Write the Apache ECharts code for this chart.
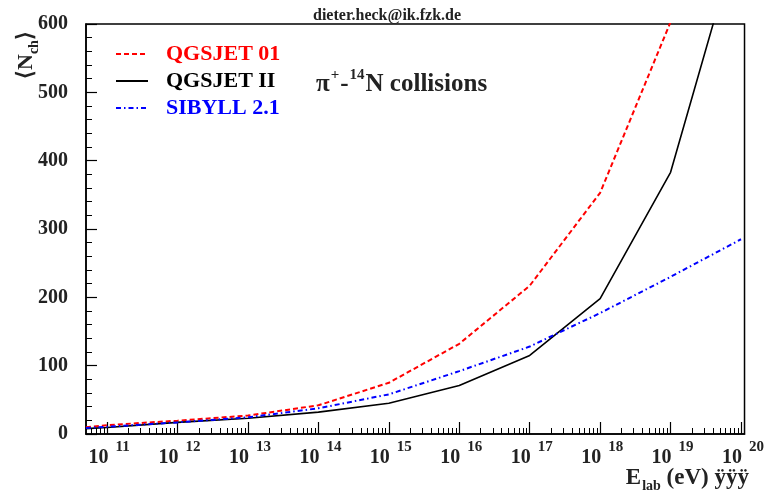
<!DOCTYPE html>
<html>
<head>
<meta charset="utf-8">
<script src="https://cdn.jsdelivr.net/npm/echarts@6/dist/echarts.min.js"></script>
<style>
html,body{margin:0;padding:0;background:#fff;}
#chart{width:767px;height:495px;}
</style>
</head>
<body>
<div id="chart"></div>
<script>
// Lab energies (eV)
const energies = [5e10, 1e11, 1e12, 1e13, 1e14, 1e15, 1e16, 1e17, 1e18, 1e19, 1e20];
// Mean charged multiplicity <N_ch>
const qgsjet01 = [9.8, 13, 19.5, 27, 42, 75, 132, 217, 353, 603, 1000];
const qgsjetII = [7.8, 9.5, 17, 23, 32, 45, 71, 115, 198, 383, 742];
const sibyll21 = [8.8, 10.7, 17, 24.4, 37.6, 58, 92, 128, 177, 230, 285];
const seriesNames = ['QGSJET 01', 'QGSJET II', 'SIBYLL 2.1'];
const seriesColors = ['#ff0000', '#000000', '#0000ff'];
// Axis ticks
const xMajorExp = [11, 12, 13, 14, 15, 16, 17, 18, 19, 20];
const yTicks = [0, 100, 200, 300, 400, 500, 600];

const FONT = '"Liberation Serif", "Times New Roman", serif';
const lx = energies.map(e => Math.log10(e));
const pts = arr => arr.map((v, i) => [lx[i], v]);

const xMinor = [];
for (let d = 10; d <= 20; d++) {
  for (let k = 2; k <= 9; k++) {
    const v = d + Math.log10(k);
    if (v > 10.7 && v < 20.05) xMinor.push(v);
  }
}

const chart = echarts.init(document.getElementById('chart'), null, {renderer: 'canvas'});
const lineTypes = [[5, 3], 'solid', [5, 3, 1.5, 3]];
const lineWidths = [2, 1.6, 2];
const datasets = [qgsjet01, qgsjetII, sibyll21];

chart.setOption({
  animation: false,
  backgroundColor: '#fff',
  grid: {left: 86, right: 21, top: 24, bottom: 61, show: true, borderColor: '#000', borderWidth: 1.5, backgroundColor: 'transparent'},
  legend: {
    show: true, orient: 'vertical', left: 110, top: 38, itemWidth: 32, itemHeight: 14, itemGap: 5,
    itemStyle: {opacity: 0},
    data: seriesNames.map((n, i) => ({name: n, textStyle: {color: seriesColors[i]}})),
    textStyle: {fontFamily: FONT, fontWeight: 'bold', fontSize: 22, padding: [0, 0, 0, 13]}
  },
  xAxis: [{
    type: 'value', min: 10.7, max: 20.05,
    axisLine: {show: true, lineStyle: {color: '#000', width: 1.5}},
    axisTick: {show: true, inside: true, length: 12, customValues: xMajorExp, lineStyle: {color: '#000', width: 1.2}},
    splitLine: {show: false},
    axisLabel: {
      customValues: xMajorExp, margin: 6,
      formatter: v => '{b|10}{s|' + Math.round(v) + '}',
      rich: {
        b: {fontFamily: FONT, fontWeight: 'bold', fontSize: 20, color: '#222', verticalAlign: 'bottom', padding: [0, 0, 0, 4]},
        s: {fontFamily: FONT, fontWeight: 'bold', fontSize: 15, color: '#222', verticalAlign: 'bottom', padding: [0, 0, 13, 7]}
      }
    }
  }, {
    type: 'value', min: 10.7, max: 20.05, position: 'bottom',
    axisLine: {show: false},
    axisTick: {show: true, inside: true, length: 6, customValues: xMinor, lineStyle: {color: '#000', width: 1}},
    axisLabel: {show: false}, splitLine: {show: false}
  }],
  yAxis: {
    type: 'value', min: 0, max: 600, interval: 100,
    axisLine: {show: true, lineStyle: {color: '#000', width: 1.5}},
    axisTick: {show: true, inside: true, length: 11, lineStyle: {color: '#000', width: 1.2}},
    minorTick: {show: true, splitNumber: 5, length: 6, lineStyle: {color: '#000', width: 1}},
    splitLine: {show: false},
    axisLabel: {margin: 18, fontFamily: FONT, fontWeight: 'bold', fontSize: 20, color: '#222',
      customValues: yTicks}
  },
  series: datasets.map((d, i) => ({
    name: seriesNames[i], type: 'line', data: pts(d), symbol: 'none', clip: true,
    color: seriesColors[i],
    lineStyle: {color: seriesColors[i], width: lineWidths[i], type: lineTypes[i]},
    itemStyle: {color: seriesColors[i]}
  })),
  graphic: [
    {type: 'text', left: 313, top: 8, style: {text: 'dieter.heck@ik.fzk.de', fontFamily: FONT, fontWeight: 'bold', fontSize: 16, fill: '#222'}},
    {type: 'text', left: 316, top: 68, style: {
      text: '{n|π}{s|+}{n|-}{s|14}{n|N collisions}',
      rich: {
        n: {fontFamily: FONT, fontWeight: 'bold', fontSize: 25, fill: '#222', verticalAlign: 'bottom'},
        s: {fontFamily: FONT, fontWeight: 'bold', fontSize: 15, fill: '#222', verticalAlign: 'bottom', padding: [0, 1, 14, 1]}
      }}},
    {type: 'text', right: 18, top: 467, style: {
      text: '{n|E}{s|lab}{n| (eV) ÿÿÿ}',
      rich: {
        n: {fontFamily: FONT, fontWeight: 'bold', fontSize: 23, fill: '#222', verticalAlign: 'top'},
        s: {fontFamily: FONT, fontWeight: 'bold', fontSize: 14, fill: '#222', verticalAlign: 'top', padding: [12, 0, 0, 1]}
      }}},
    {type: 'text', x: 15, y: 79, rotation: Math.PI / 2, style: {
      text: '{n|⟨N}{s|ch}{n|⟩}',
      rich: {
        n: {fontFamily: FONT, fontWeight: 'bold', fontSize: 22, fill: '#222', verticalAlign: 'top'},
        s: {fontFamily: FONT, fontWeight: 'bold', fontSize: 14, fill: '#222', verticalAlign: 'top', padding: [12, 0, 0, 0]}
      }}}
  ]
});
</script>
</body>
</html>
